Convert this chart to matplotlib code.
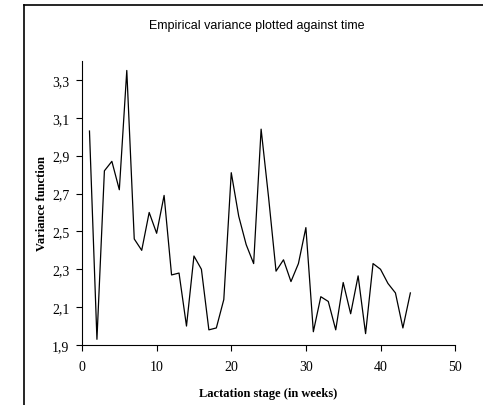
import numpy as np
import matplotlib
matplotlib.use("Agg")
import matplotlib.pyplot as plt
from matplotlib.lines import Line2D

# lactation week and empirical variance
weeks = list(range(1, 45))
variance = [3.03, 1.93, 2.82, 2.87, 2.72, 3.35, 2.46, 2.40, 2.60, 2.49,
            2.69, 2.27, 2.28, 2.00, 2.37, 2.30, 1.98, 1.99, 2.14, 2.81,
            2.58, 2.43, 2.33, 3.04, 2.68, 2.29, 2.35, 2.235, 2.33, 2.52,
            1.97, 2.155, 2.13, 1.98, 2.23, 2.065, 2.265, 1.96, 2.33, 2.30,
            2.225, 2.175, 1.99, 2.175]

xticks = [0, 10, 20, 30, 40, 50]
yticks = [1.9, 2.1, 2.3, 2.5, 2.7, 2.9, 3.1, 3.3]
ytick_labels = ['1,9', '2,1', '2,3', '2,5', '2,7', '2,9', '3,1', '3,3']

serif = 'Liberation Serif'
sans = 'Liberation Sans'

fig = plt.figure(figsize=(4.83, 4.06), dpi=100)
ax = fig.add_axes([0.1698, 0.1478, 0.7725, 0.6995])

ax.plot(weeks, variance, color='black', lw=0.9)

ax.set_xlim(0, 50)
ax.set_ylim(1.9, 3.4)
ax.set_xticks(xticks)
ax.set_xticklabels([str(t) for t in xticks], fontfamily=serif, fontsize=10)
ax.set_yticks(yticks)
ax.set_yticklabels(ytick_labels, fontfamily=serif, fontsize=10)
ax.tick_params(axis='x', direction='out', length=4, width=0.8, pad=7)
ax.tick_params(axis='y', direction='out', length=4, width=0.8, pad=5)

for s in ['top', 'right']:
    ax.spines[s].set_visible(False)
for s in ['left', 'bottom']:
    ax.spines[s].set_linewidth(0.8)

ax.set_xlabel('Lactation stage (in weeks)', fontfamily=serif,
              fontweight='bold', fontsize=9, labelpad=10)
ax.set_ylabel('Variance function', fontfamily=serif,
              fontweight='bold', fontsize=9, labelpad=3)

fig.text(0.531, 0.935, 'Empirical variance plotted against time',
         fontfamily=sans, fontsize=9, ha='center', va='center')

# outer frame (left and top edges only)
fig.add_artist(Line2D([24 / 483, 24 / 483], [0, 1 - 6 / 406],
                      transform=fig.transFigure, color='black', lw=1.2))
fig.add_artist(Line2D([24 / 483, 1], [1 - 6 / 406, 1 - 6 / 406],
                      transform=fig.transFigure, color='black', lw=1.2))

fig.savefig('out.png', dpi=100)
